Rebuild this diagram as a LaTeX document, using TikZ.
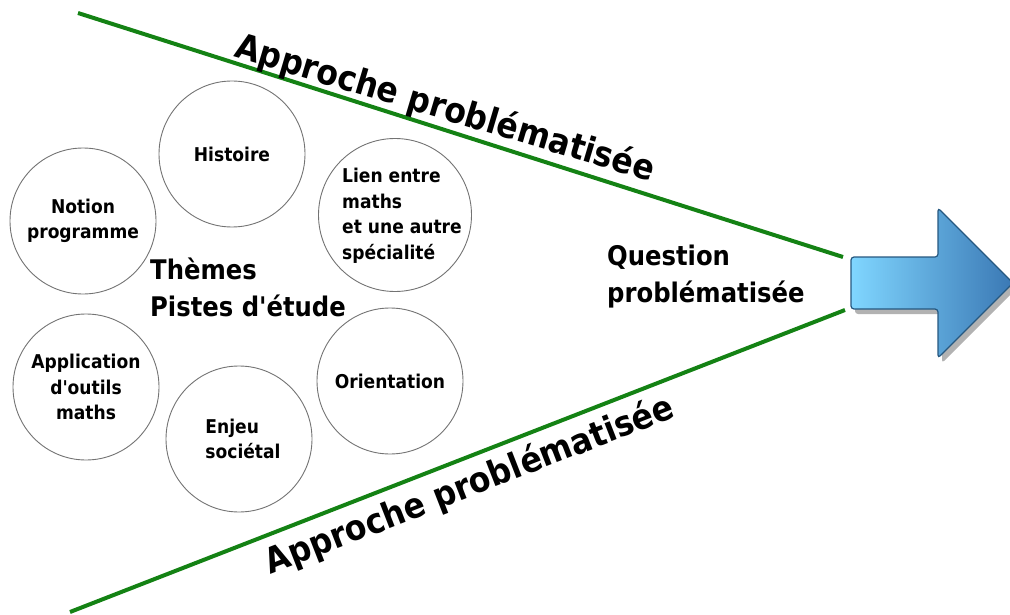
\documentclass[tikz,border=0pt]{standalone}
\usepackage{fontspec}
\setmainfont{DejaVu Sans Condensed}[Ligatures=TeXOff]
\definecolor{lineGreen}{RGB}{20,130,20}
\definecolor{arrowLight}{RGB}{128,214,255}
\definecolor{arrowDark}{RGB}{58,120,180}
\definecolor{arrowEdge}{RGB}{38,88,128}
\begin{document}
\begin{tikzpicture}[x=1pt,y=-1pt,
  theme/.style={circle,draw=black!55,line width=0.9pt,minimum size=146pt,inner sep=0pt,
    font=\bfseries\fontsize{19}{25.5}\selectfont,align=center},
  themetext/.style={inner sep=0pt,font=\bfseries\fontsize{19}{25.5}\selectfont,align=left},
  approach/.style={font=\bfseries\fontsize{35}{42}\selectfont,inner sep=0pt},
  bigtext/.style={font=\bfseries\fontsize{27}{37}\selectfont,inner sep=0pt,anchor=base west},
  greenline/.style={draw=lineGreen,line width=4pt},
  bigarrow/.style={draw=arrowEdge,line width=1.2pt,rounded corners=3pt,left color=arrowLight,right color=arrowDark},
  arrowshadow/.style={fill=black,fill opacity=0.3,rounded corners=3pt}
]
\useasboundingbox (0,0) rectangle (1010,615);
\clip (0,0) rectangle (1010,615);

% circles
\node[theme] (notion) at (83,221) {Notion\\programme};
\node[theme] (histoire) at (232,154) {Histoire};
\node[theme,minimum size=153pt] (lien) at (395,215) {};
\node[themetext] (lientext) at ([xshift=7pt,yshift=-1pt]lien.center) {Lien entre\\maths\\et une autre\\spécialité};
\node[theme] (appli) at (86,387) {Application\\d'outils\\maths};
\node[theme,align=left] (enjeu) at (239,439) {\hspace*{8pt}Enjeu\\\hspace*{8pt}sociétal};
\node[theme] (orient) at (390,381) {Orientation};

% central texts
\node[bigtext] (themes) at (150,279) {Thèmes};
\node[bigtext] (pistes) at (150,316) {Pistes d'étude};
\node[bigtext] (question) at (607,265) {Question};
\node[bigtext] (probq) at (607,302) {problématisée};

% green lines
\coordinate (g1a) at (78,13);
\coordinate (g1b) at (843,257);
\coordinate (g2a) at (70,612);
\coordinate (g2b) at (845,310);
\draw[greenline] (g1a) -- (g1b);
\draw[greenline] (g2a) -- (g2b);

% labels along lines
\node[approach,anchor=base,rotate=-16.6] (apptop) at (442,119) {Approche problématisée};
\path (g2a) -- (g2b) node[approach,pos=0.503,sloped,below=10pt] (appbot) {Approche problématisée};

% arrow
\fill[arrowshadow,shift={(4,5)}] (851,257) -- (938,257) -- (938,208) -- (1013,283) -- (938,358) -- (938,309) -- (851,309) -- cycle;
\path[bigarrow] (851,257) -- (938,257) -- (938,208) -- (1013,283) -- (938,358) -- (938,309) -- (851,309) -- cycle;
\end{tikzpicture}
\end{document}
